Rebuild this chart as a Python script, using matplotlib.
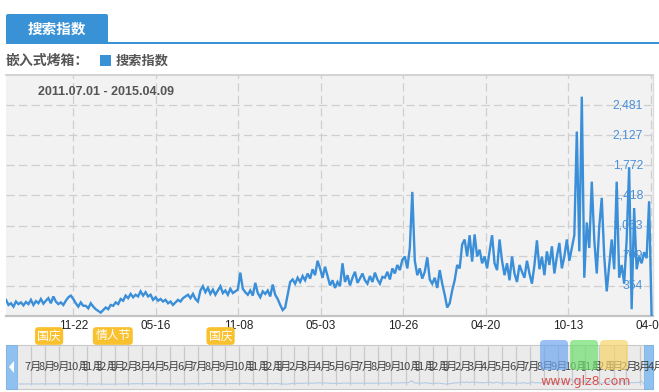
import numpy as np
import pandas as pd
import matplotlib
matplotlib.use("Agg")
import matplotlib.pyplot as plt
import matplotlib.transforms as mtransforms
from matplotlib.patches import FancyBboxPatch, Rectangle, Polygon

plt.rcParams['font.family'] = ['Noto Sans CJK SC', 'DejaVu Sans']
plt.rcParams['lines.scale_dashes'] = False

# ---------------- data ----------------
start_date = '2011-07-01'
end_date = '2015-04-09'
series_name = '搜索指数'
keyword = '嵌入式烤箱'

values = [
    190, 130, 150, 110, 170, 140, 160, 125,
    165, 140, 190, 130, 175, 150, 200, 145,
    180, 210, 150, 230, 170, 140, 160, 130,
    180, 220, 240, 200, 150, 110, 160, 120,
    120, 90, 150, 110, 80, 60, 40, 70,
    100, 80, 130, 120, 160, 140, 200, 180,
    240, 210, 260, 220, 250, 230, 290, 240,
    280, 230, 250, 190, 220, 180, 200, 170,
    190, 150, 170, 130, 160, 190, 170, 210,
    230, 250, 210, 260, 200, 170, 300, 350,
    280, 330, 260, 310, 250, 300, 350, 270,
    300, 250, 320, 270, 290, 310, 510, 320,
    280, 250, 300, 240, 390, 270, 220, 290,
    260, 300, 230, 370, 250, 200, 130, 70,
    100, 250, 400, 430, 380, 450, 400, 470,
    420, 500, 440, 550, 480, 650, 560, 450,
    580, 470, 360, 420, 330, 400, 350, 620,
    400, 480, 360, 450, 520, 390, 440, 500,
    420, 380, 470, 400, 510, 430, 380, 460,
    450, 520, 430, 560, 500, 600, 540, 660,
    700, 560, 800, 1460, 650, 480, 560, 440,
    520, 690, 430, 380, 450, 330, 540, 380,
    250, 100, 150, 300, 420, 600, 560, 840,
    900, 700, 950, 640, 960, 700, 780, 620,
    700, 560, 760, 950, 620, 540, 900, 650,
    480, 620, 420, 700, 500, 400, 600, 520,
    450, 650, 500, 380, 600, 890, 550, 700,
    480, 760, 600, 820, 500, 700, 860, 560,
    700, 900, 650, 800, 950, 2170, 760, 2580,
    450, 1100, 800, 1580, 900, 500, 1050, 1390,
    700, 290, 600, 900, 550, 1580, 450, 600,
    380, 900, 1750, 80, 1270, 550, 700, 620,
    750, 680, 1350, 0,
]

x_tick_dates = ['2011-11-22', '2012-05-16', '2012-11-08', '2013-05-03',
                '2013-10-26', '2014-04-20', '2014-10-13', '2015-04-07']
x_tick_labels = ['11-22', '05-16', '11-08', '05-03', '10-26', '04-20', '10-13', '04-07']
y_ticks = [354, 709, 1063, 1418, 1772, 2127, 2481]
y_tick_labels = ['354', '709', '1,063', '1,418', '1,772', '2,127', '2,481']
y_max = 2835
event_dates = ['2011-10-01', '2012-02-14', '2012-10-01']
event_names = ['国庆', '情人节', '国庆']
nav_month_starts = pd.date_range('2011-07-01', '2015-04-01', freq='MS')

dates = pd.date_range(start_date, end_date, periods=len(values))

# ---------------- figure ----------------
W, H = 659, 392
fig = plt.figure(figsize=(W / 100, H / 100), dpi=100)
fig.patch.set_facecolor('white')


def px_axes(x0, y0, x1, y1, **kw):
    return fig.add_axes([x0 / W, 1 - y1 / H, (x1 - x0) / W, (y1 - y0) / H], **kw)


BLUE = '#3a92d6'
LINE = '#3a8fd8'

deco = px_axes(0, 0, W, H)
deco.set_xlim(0, W)
deco.set_ylim(H, 0)
deco.axis('off')

# tab header
deco.add_patch(FancyBboxPatch((6, 14), 102, 29, boxstyle='round,pad=0,rounding_size=2',
                              fc=BLUE, ec='none'))
deco.add_patch(Rectangle((6, 41.5), W - 6, 2, fc=BLUE, ec='none'))
deco.text(57, 28.5, series_name, color='white', fontsize=10.5, fontweight='bold',
          ha='center', va='center')

# legend row
deco.text(6, 61, keyword + '：', color='#555555', fontsize=10, fontweight='bold',
          ha='left', va='center')
deco.add_patch(Rectangle((100, 55), 11, 11, fc=BLUE, ec='none'))
deco.text(116, 61, series_name, color='#555555', fontsize=9.5, fontweight='bold',
          ha='left', va='center')

# ---------------- main chart ----------------
ax = px_axes(6, 75, 653, 316)
ax.set_facecolor('#f2f2f2')
ax.plot(dates, values, color=LINE, lw=1.7, zorder=3, solid_joinstyle='miter')
ax.set_xlim(dates[0], dates[-1] + pd.Timedelta(days=3))
ax.set_ylim(0, y_max)
ax.set_xticks(pd.to_datetime(x_tick_dates))
ax.set_xticklabels(x_tick_labels, fontsize=8.5, color='#222222', family='Liberation Sans')
ax.set_yticks(y_ticks)
ax.tick_params(axis='both', length=0)
ax.tick_params(axis='x', pad=3)
ax.tick_params(axis='y', labelleft=False)
ax.grid(True, color='#cfcfcf', linestyle=(0, (6, 3)), lw=0.9)
ax.set_axisbelow(True)
ax.spines['left'].set_visible(False)
ax.spines['top'].set_color('#cccccc')
ax.spines['top'].set_linewidth(1.2)
ax.spines['right'].set_color('#dddddd')
ax.spines['right'].set_linewidth(1.0)
ax.spines['bottom'].set_color('#c4c4c4')
ax.spines['bottom'].set_linewidth(1.6)

ytrans = mtransforms.blended_transform_factory(ax.transAxes, ax.transData)
for v, lab in zip(y_ticks, y_tick_labels):
    ax.text((643 - 6) / 647, v, lab, transform=ytrans, ha='right', va='center',
            color='#4a8fd6', fontsize=8.7, family='Liberation Sans', zorder=2.5)

ax.text((38 - 6) / 647, (316 - 92) / 241, f"{start_date.replace('-', '.')} - {end_date.replace('-', '.')}",
        transform=ax.transAxes, ha='left', va='center', color='#555555', fontsize=9,
        fontweight='bold', family='Liberation Sans')

# event markers
etrans = mtransforms.blended_transform_factory(ax.transData, ax.transAxes)
for d, name in zip(pd.to_datetime(event_dates), event_names):
    ax.text(d, (316 - 336) / 241, name, transform=etrans, ha='center', va='center',
            color='white', fontsize=8.5, clip_on=False, zorder=5,
            bbox=dict(boxstyle='round,pad=0.2,rounding_size=0.3', fc='#f9c12e', ec='none'))

# ---------------- navigator ----------------
deco.add_patch(Rectangle((6, 345), 647, 44, fc='#ebebeb', ec='#c8c8c8', lw=0.8))
nav = px_axes(17, 345, 644, 389)
nav.set_facecolor('none')
nav.set_xlim(dates[0], dates[-1])
nav.set_ylim(0, 1)
nav.axis('off')
nav.vlines(nav_month_starts[1:], 0.08, 0.98, color='#c9c9c9', lw=0.9)
ntrans = mtransforms.blended_transform_factory(nav.transData, nav.transAxes) + \
    mtransforms.ScaledTranslation(7 / 100, 0, fig.dpi_scale_trans)
for m in nav_month_starts:
    nav.text(m, 0.5, f'{m.month}月', transform=ntrans, ha='left', va='center',
             fontsize=8, color='#444444')

mini = px_axes(17, 372, 644, 388)
mini.set_facecolor('none')
mini.plot(dates, values, color='#b3cbe5', lw=0.8)
mini.set_xlim(dates[0], dates[-1])
mini.set_ylim(-1500, 5000)
mini.axis('off')

# handles
deco.add_patch(Rectangle((6, 345), 11, 44, fc='#8ec1ef', ec='#7fb2e0', lw=0.6))
deco.add_patch(Polygon([[14, 361], [14, 373], [9, 367]], closed=True, fc='white', ec='none'))
deco.add_patch(Rectangle((644, 345), 9, 44, fc='#8ec1ef', ec='#7fb2e0', lw=0.6))

# watermark
top = px_axes(0, 0, W, H)
top.set_xlim(0, W)
top.set_ylim(H, 0)
top.axis('off')
top.patch.set_alpha(0)
for x0, c in [(540, '#6fa6f0'), (570, '#6fe06f'), (600, '#f7d46b')]:
    top.add_patch(FancyBboxPatch((x0, 340), 28, 30, boxstyle='round,pad=0,rounding_size=4',
                                 fc=c, ec='none', alpha=0.7))
top.text(586, 381, 'www.glz8.com', color='#d9534f', fontsize=9, ha='center', va='center',
         family='DejaVu Sans')

fig.savefig('out.png', dpi=100)
